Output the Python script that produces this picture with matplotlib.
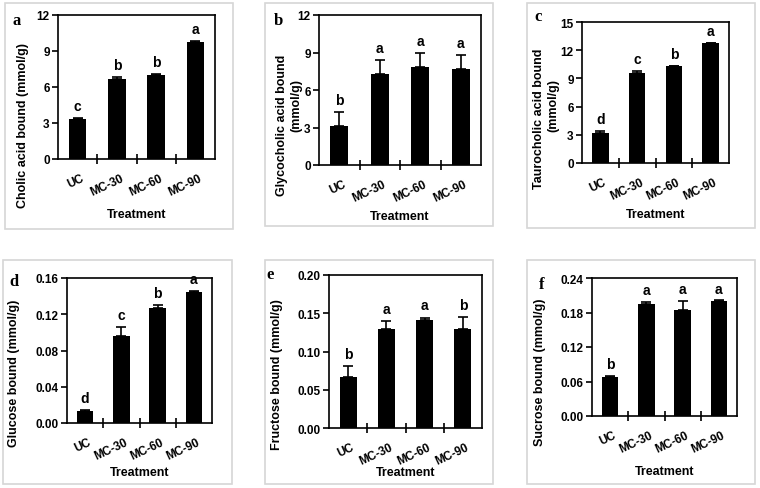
import numpy as np
import matplotlib.pyplot as plt
from matplotlib.patches import Rectangle

treatments = ["UC", "MC-30", "MC-60", "MC-90"]

cholic = [3.3, 6.7, 7.0, 9.75]
cholic_err = [0.1, 0.15, 0.1, 0.1]
cholic_sig = ["c", "b", "b", "a"]

glyco = [3.15, 7.25, 7.85, 7.7]
glyco_err = [1.1, 1.15, 1.1, 1.1]
glyco_sig = ["b", "a", "a", "a"]

tauro = [3.2, 9.6, 10.3, 12.75]
tauro_err = [0.25, 0.2, 0.05, 0.05]
tauro_sig = ["d", "c", "b", "a"]

glucose = [0.013, 0.096, 0.127, 0.145]
glucose_err = [0.001, 0.010, 0.003, 0.001]
glucose_sig = ["d", "c", "b", "a"]

fructose = [0.067, 0.130, 0.141, 0.130]
fructose_err = [0.014, 0.010, 0.003, 0.015]
fructose_sig = ["b", "a", "a", "b"]

sucrose = [0.068, 0.195, 0.185, 0.200]
sucrose_err = [0.001, 0.004, 0.015, 0.001]
sucrose_sig = ["b", "a", "a", "a"]

W, H = 760, 489
plt.rcParams['font.family'] = ['Liberation Sans', 'DejaVu Sans']
fig = plt.figure(figsize=(W / 100, H / 100), dpi=100)


def fx(px):
    return px / W


def fy(py):
    return 1 - py / H


def panel(frame, box, letter, letter_xy, ylab_lines, xlab_y, vals, errs, sig, yticks, fmt):
    # light grey frame round the panel
    fig.patches.append(Rectangle((fx(frame[0]), fy(frame[3])),
                                 (frame[2] - frame[0]) / W, (frame[3] - frame[1]) / H,
                                 transform=fig.transFigure, fill=False,
                                 edgecolor='#d6d6d6', linewidth=1.2))
    ax = fig.add_axes([fx(box[0]), fy(box[3]), (box[2] - box[0]) / W, (box[3] - box[1]) / H])
    x = np.arange(len(treatments))
    ax.bar(x, vals, width=0.45, color='black', zorder=2)
    ax.errorbar(x, vals, yerr=[np.zeros(len(errs)), errs], fmt='none',
                ecolor='black', elinewidth=1.2, capsize=3.5, capthick=1.2, zorder=3)
    ymax = yticks[-1]
    for xi, v, e, s in zip(x, vals, errs, sig):
        ax.text(xi, v + e + ymax * 0.035, s, ha='center', va='bottom',
                fontsize=10, fontweight='bold')
    ax.set_xlim(-0.5, 3.5)
    ax.set_ylim(0, ymax)
    ax.set_yticks(yticks)
    ax.set_yticklabels([fmt.format(t) for t in yticks], fontsize=8.5, fontweight='bold')
    ax.set_xticks([0.5, 1.5, 2.5])
    ax.set_xticklabels([])
    ax.tick_params(axis='x', direction='inout', length=7, width=1.2)
    ax.tick_params(axis='y', direction='out', length=4, width=1.2, pad=2)
    # slanted category names, top-right corner a little under the axis
    for xi, t in zip(x, treatments):
        ax.annotate(t, xy=(xi + 0.08, 0), xycoords=ax.get_xaxis_transform(),
                    xytext=(0, -9), textcoords='offset points',
                    ha='right', va='top', rotation=25, rotation_mode='anchor',
                    fontsize=8.5, fontweight='bold')
    for sp in ax.spines.values():
        sp.set_linewidth(1.2)
    # y-axis title, one text per line (placed as in the source figure)
    for txt, lx, ly in ylab_lines:
        fig.text(fx(lx), fy(ly), txt, rotation=90, ha='center', va='center',
                 fontsize=9, fontweight='bold')
    fig.text(fx((box[0] + box[2]) / 2), fy(xlab_y), "Treatment",
             ha='center', va='center', fontsize=9, fontweight='bold')
    fig.text(fx(letter_xy[0]), fy(letter_xy[1]), letter, family='Liberation Serif',
             fontsize=12, fontweight='bold', ha='center', va='center')
    return ax


panel((5, 4, 233, 230), (58, 16, 215, 160), "a", (17, 21),
      [("Cholic acid bound (mmol/g)", 23, 126)], 215,
      cholic, cholic_err, cholic_sig, [0, 3, 6, 9, 12], "{:g}")
panel((265, 4, 493, 227), (319, 16, 481, 166), "b", (278, 21),
      [("Glycocholic acid bound", 282, 125), ("(mmol/g)", 296, 105)], 217,
      glyco, glyco_err, glyco_sig, [0, 3, 6, 9, 12], "{:g}")
panel((527, 4, 755, 229), (582, 23, 729, 164), "c", (538, 17),
      [("Taurocholic acid bound", 539, 119), ("(mmol/g)", 553, 105)], 215,
      tauro, tauro_err, tauro_sig, [0, 3, 6, 9, 12, 15], "{:g}")
panel((3, 261, 232, 485), (67, 279, 212, 424), "d", (14, 282),
      [("Glucose bound (mmol/g)", 14, 373)], 473,
      glucose, glucose_err, glucose_sig, [0, 0.04, 0.08, 0.12, 0.16], "{:.2f}")
panel((265, 261, 493, 485), (329, 276, 482, 429), "e", (270, 275),
      [("Fructose bound (mmol/g)", 277, 375)], 473,
      fructose, fructose_err, fructose_sig, [0, 0.05, 0.10, 0.15, 0.20], "{:.2f}")
panel((527, 261, 755, 485), (592, 279, 737, 417), "f", (542, 285),
      [("Sucrose bound (mmol/g)", 540, 372)], 472,
      sucrose, sucrose_err, sucrose_sig, [0, 0.06, 0.12, 0.18, 0.24], "{:.2f}")

fig.savefig("out.png", dpi=100)
